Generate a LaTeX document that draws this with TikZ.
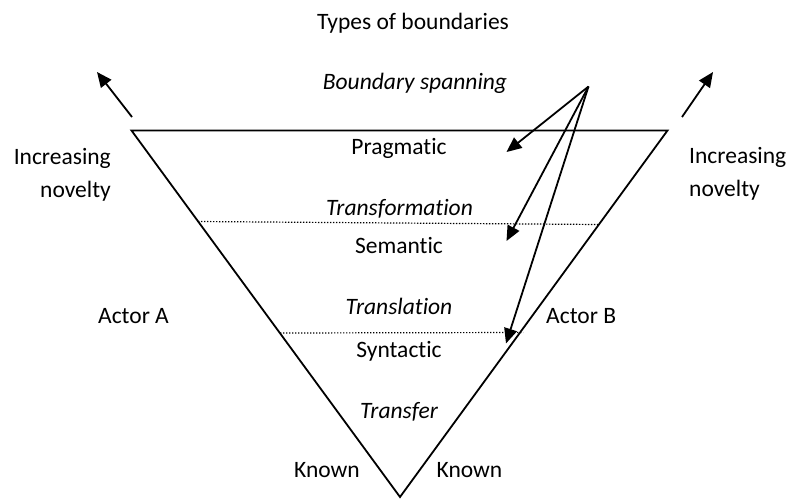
\documentclass[tikz,border=0pt]{standalone}
\usepackage{fontspec}
\setmainfont{Carlito}[Ligatures=NoCommon]
\usetikzlibrary{arrows.meta}
\tikzset{
  lbl/.style={inner sep=0pt, font=\fontsize{23.5}{28}\selectfont},
  ilbl/.style={lbl, font=\fontsize{23.5}{28}\selectfont\itshape},
  edge/.style={line width=1.8pt, line join=miter},
  dotline/.style={line width=1.2pt, dash pattern=on 1.3pt off 1.7pt},
  arr/.style={line width=1.8pt, -{Triangle[length=15pt,width=13pt]}}
}
\begin{document}
\begin{tikzpicture}[x=1pt,y=-1pt]
\useasboundingbox (0,0) rectangle (789,498);
% triangle
\coordinate (tl) at (131.5,130.5);
\coordinate (tr) at (667.5,130.5);
\coordinate (bt) at (400,497);
\draw[edge] (tl) -- (tr) -- (bt) -- cycle;
% dotted boundaries
\coordinate (d1l) at (198,221.5);
\coordinate (d1r) at (598,224.5);
\coordinate (d2l) at (280,333);
\coordinate (d2r) at (523,332.5);
\draw[dotline] (d1l) -- (d1r);
\draw[dotline] (d2l) -- (d2r);
% texts
\node[lbl, anchor=base] (title) at (413,29) {Types of boundaries};
\node[ilbl, anchor=base] (bs) at (415,89) {Boundary spanning};
\node[lbl, anchor=base] (prag) at (399,154) {Pragmatic};
\node[ilbl, anchor=base] (transf) at (399.5,215) {Transformation};
\node[lbl, anchor=base] (sem) at (399,253) {Semantic};
\node[ilbl, anchor=base] (transl) at (399,314) {Translation};
\node[lbl, anchor=base] (syn) at (399,357) {Syntactic};
\node[ilbl, anchor=base] (tfer) at (399,418) {Transfer};
\node[lbl, anchor=base east] (incl) at (111,164) {Increasing};
\node[lbl, anchor=base east] (novl) at (111,197) {novelty};
\node[lbl, anchor=base west] (incr) at (689,163) {Increasing};
\node[lbl, anchor=base west] (novr) at (689,196) {novelty};
\node[lbl, anchor=base] (acta) at (133.5,323) {Actor A};
\node[lbl, anchor=base west] (actb) at (546,323) {Actor B};
\node[lbl, anchor=base] (knl) at (327,477) {Known};
\node[lbl, anchor=base] (knr) at (469.5,477) {Known};
% novelty arrows
\coordinate (nls) at (132,117);
\coordinate (nle) at (97,72);
\coordinate (nrs) at (682,117);
\coordinate (nre) at (713,72);
\draw[arr] (nls) -- (nle);
\draw[arr] (nrs) -- (nre);
% boundary spanning arrows
\coordinate (src) at (588.5,86.5);
\coordinate (a1) at (506.5,152);
\coordinate (a2) at (506.5,241);
\coordinate (a3) at (506,343.5);
\draw[arr] (src) -- (a1);
\draw[arr] (src) -- (a2);
\draw[arr] (src) -- (a3);
\end{tikzpicture}
\end{document}
